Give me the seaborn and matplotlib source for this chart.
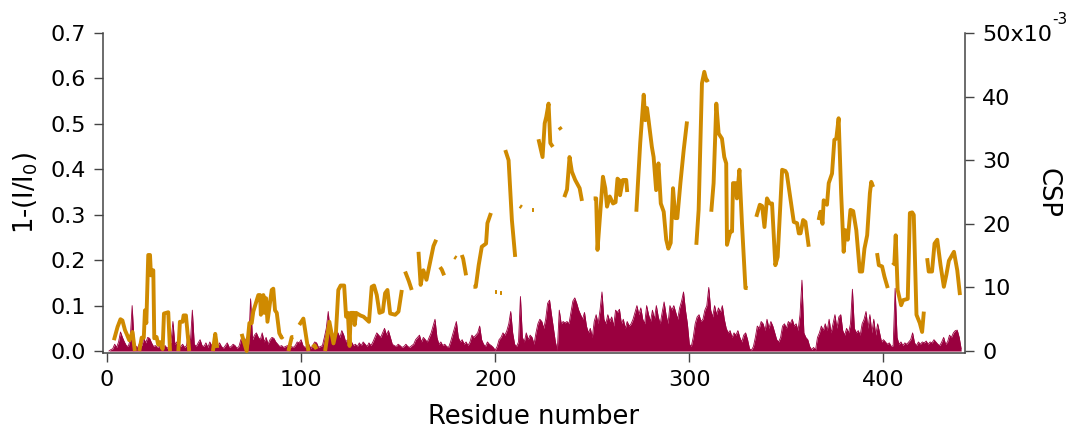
import numpy as np
import pandas as pd
import seaborn as sns
from matplotlib import pyplot as plt

# 1-(I/I0) per residue, residues 1..440
intensity = [
    0.000, 0.003, 0.005, 0.015, 0.008, 0.020, 0.042, 0.030, 0.020, 0.012,
    0.010, 0.025, 0.100, 0.020, 0.010, 0.008, 0.020, 0.012, 0.028, 0.018,
    0.030, 0.028, 0.018, 0.010, 0.012, 0.008, 0.010, 0.015, 0.008, 0.012,
    0.006, 0.010, 0.020, 0.065, 0.015, 0.020, 0.012, 0.010, 0.015, 0.008,
    0.012, 0.038, 0.020, 0.090, 0.015, 0.010, 0.018, 0.025, 0.012, 0.010,
    0.018, 0.008, 0.020, 0.012, 0.010, 0.015, 0.008, 0.018, 0.010, 0.006,
    0.012, 0.018, 0.008, 0.010, 0.015, 0.012, 0.006, 0.010, 0.025, 0.035,
    0.020, 0.030, 0.015, 0.115, 0.025, 0.035, 0.040, 0.030, 0.025, 0.040,
    0.020, 0.030, 0.015, 0.025, 0.030, 0.028, 0.020, 0.015, 0.010, 0.012,
    0.008, 0.010, 0.012, 0.006, 0.010, 0.008, 0.012, 0.020, 0.018, 0.025,
    0.012, 0.008, 0.010, 0.015, 0.006, 0.012, 0.020, 0.018, 0.008, 0.010,
    0.012, 0.030, 0.050, 0.087, 0.040, 0.025, 0.035, 0.045, 0.040, 0.030,
    0.045, 0.035, 0.020, 0.025, 0.015, 0.020, 0.012, 0.015, 0.010, 0.018,
    0.012, 0.020, 0.015, 0.010, 0.018, 0.012, 0.020, 0.030, 0.040, 0.035,
    0.030, 0.040, 0.050, 0.035, 0.045, 0.030, 0.015, 0.012, 0.010, 0.015,
    0.012, 0.008, 0.010, 0.015, 0.010, 0.008, 0.012, 0.015, 0.025, 0.030,
    0.035, 0.020, 0.030, 0.025, 0.020, 0.030, 0.040, 0.055, 0.070, 0.030,
    0.015, 0.020, 0.012, 0.015, 0.010, 0.008, 0.020, 0.035, 0.050, 0.065,
    0.030, 0.020, 0.025, 0.015, 0.020, 0.012, 0.020, 0.035, 0.030, 0.035,
    0.040, 0.055, 0.025, 0.015, 0.010, 0.020, 0.015, 0.012, 0.008, 0.002,
    0.010, 0.025, 0.030, 0.040, 0.035, 0.045, 0.060, 0.087, 0.040, 0.015,
    0.010, 0.020, 0.120, 0.030, 0.020, 0.040, 0.025, 0.035, 0.030, 0.015,
    0.040, 0.060, 0.070, 0.065, 0.050, 0.070, 0.105, 0.112, 0.080, 0.050,
    0.020, 0.002, 0.090, 0.060, 0.065, 0.062, 0.065, 0.060, 0.085, 0.110,
    0.117, 0.105, 0.090, 0.080, 0.070, 0.085, 0.055, 0.040, 0.050, 0.030,
    0.065, 0.080, 0.060, 0.090, 0.130, 0.070, 0.060, 0.080, 0.065, 0.075,
    0.055, 0.090, 0.085, 0.092, 0.060, 0.070, 0.050, 0.065, 0.055, 0.060,
    0.070, 0.085, 0.100, 0.080, 0.095, 0.070, 0.060, 0.100, 0.080, 0.065,
    0.090, 0.070, 0.100, 0.075, 0.060, 0.085, 0.108, 0.080, 0.060, 0.100,
    0.090, 0.100, 0.085, 0.070, 0.095, 0.110, 0.130, 0.090, 0.060, 0.015,
    0.010, 0.030, 0.060, 0.075, 0.080, 0.065, 0.070, 0.090, 0.100, 0.140,
    0.090, 0.075, 0.100, 0.080, 0.095, 0.085, 0.100, 0.070, 0.050, 0.040,
    0.045, 0.030, 0.040, 0.035, 0.045, 0.030, 0.020, 0.035, 0.040, 0.025,
    0.005, 0.002, 0.010, 0.030, 0.055, 0.050, 0.065, 0.060, 0.045, 0.070,
    0.050, 0.065, 0.055, 0.040, 0.025, 0.020, 0.030, 0.055, 0.060, 0.050,
    0.065, 0.060, 0.070, 0.055, 0.060, 0.045, 0.080, 0.156, 0.040, 0.030,
    0.025, 0.010, 0.003, 0.008, 0.002, 0.030, 0.040, 0.055, 0.045, 0.060,
    0.045, 0.070, 0.040, 0.060, 0.080, 0.050, 0.075, 0.080, 0.045, 0.035,
    0.050, 0.040, 0.060, 0.136, 0.050, 0.040, 0.045, 0.035, 0.060, 0.070,
    0.087, 0.050, 0.080, 0.040, 0.070, 0.035, 0.060, 0.040, 0.020, 0.025,
    0.020, 0.015, 0.018, 0.010, 0.012, 0.138, 0.030, 0.015, 0.020, 0.012,
    0.018, 0.015, 0.020, 0.025, 0.040, 0.018, 0.012, 0.020, 0.015, 0.020,
    0.018, 0.022, 0.015, 0.020, 0.018, 0.025, 0.020, 0.015, 0.012, 0.020,
    0.030, 0.015, 0.020, 0.035, 0.030, 0.040, 0.045, 0.046, 0.030, 0.005,
]
first_residue = 1

# CSP (x1e-3), None marks a gap in the trace
csp_res = [
    3.6, 5.5, 7.0, 8.0, 9.3, 10.3, 11.5, 13.2, 14.4, None,
    16.7, 17.9, 19.0, 19.6, 20.3, 21.3, 22.2, 22.7, 23.9, 24.4, 25.6, 26.4, 27.5, 28.7, 29.4, 31.6, 32.5, None,
    36.8, 37.6, 39.0, 39.5, 40.7, 42.4, None,
    54.6, 55.8, 56.8, None,
    69.4, 72.0, 73.4, 74.6, 75.4, 78.0, 78.9, 79.3, 80.6, 81.0, 82.0, 82.7, 84.9, 85.7, 86.6, 87.5, 88.8, 90.0, 90.7, None,
    93.5, 95.2, 96.0, None,
    99.1, 101.2, 102.9, 103.8, None,
    106.0, 107.0, 108.0, None,
    112.4, 114.6, 116.7, 118.0, 119.2, 120.4, 122.2, 123.2, 124.1, 125.0, 125.6, 127.1, 127.6, 128.4, 130.5,
    132.2, 133.6, 135.0, 136.4, 137.6, 139.0, 140.4, 142.1, 143.3, 144.5, 145.9, 148.5, 150.2, 151.9, None,
    153.6, 155.5, 157.0, None,
    160.5, 161.6, 163.0, 164.6, 166.5, 168.2, 169.6, None,
    171.6, 172.5, 173.7, None,
    179.0, 180.0, None,
    182.8, 183.5, 185.0, None,
    188.8, 190.0, 191.5, 193.1, 195.3, 196.0, 197.8, None,
    200.0, 201.0, None,
    202.5, 203.5, None,
    205.2, 206.9, 208.6, 210.3, None,
    212.7, 213.7, None,
    219.2, 220.2, None,
    222.3, 224.4, 225.5, 226.3, 227.5, 228.4, 229.7, None,
    233.0, 234.0, None,
    235.6, 237.0, 238.3, 239.5, 241.2, 243.5, 244.7, None,
    250.7, 252.0, 252.7, 254.1, 255.5, 256.7, 257.6, 259.0, 260.7, 262.0, 263.0, 264.0, 264.3, 265.8, 267.5, 268.0, None,
    272.7, 274.7, 276.5, 277.3, 278.2, 279.0, 280.7, 281.6, 282.9, 284.1, 285.3, 286.8, 288.1, 289.2, 290.4,
    291.6, 292.8, 293.8, 295.4, 297.1, 298.8, None,
    303.6, 304.8, 306.5, 307.7, 308.8, 310.0, None,
    311.3, 312.5, 313.9, 315.1, 316.8, 318.0, 319.0, 319.4, 321.1, 322.0, 322.5, 323.7, 324.5, 325.8, 327.1, 328.9, 330.0, None,
    334.5, 336.3, 337.5, 338.7, 340.0, 341.4, 342.6, 344.3, 345.5, 347.8, 349.5, 350.2, 353.8, 355.5, 356.4, 357.3,
    358.6, 359.8, 361.5, None,
    366.6, 367.5, 368.6, 369.2, 370.9, 371.8, 373.5, 374.7, 375.7, 376.9, 378.2, 379.5, 380.4, 381.6, 383.0, 384.4,
    386.0, 387.8, 389.0, 390.2, 391.6, 393.0, 393.7, 394.7, None,
    396.7, 397.6, 399.3, 400.5, 402.2, None,
    404.8, 405.6, 406.3, 407.3, 409.1, 410.1, 412.5, 413.6, 414.8, 415.6, 417.0, 418.7, 419.9, 420.8, None,
    422.5, 423.3, 425.0, 426.3, 427.7, 429.4, 431.1, 432.4, 433.7, 436.3, 438.0, 439.4,
]
csp_val = [
    1.7, 3.8, 5.0, 4.8, 3.3, 2.6, 1.7, 3.0, 0.0, None,
    0.0, 2.1, 2.1, 6.4, 4.4, 15.1, 15.1, 11.9, 12.7, 2.0, 2.2, 1.0, 1.4, 0.3, 5.9, 6.1, 0.0, None,
    0.0, 4.6, 4.6, 5.6, 5.6, 0.0, None,
    0.0, 2.7, 0.5, None,
    2.7, 0.0, 4.4, 4.4, 6.2, 8.8, 8.8, 5.7, 8.8, 6.0, 8.3, 4.6, 9.6, 9.8, 6.4, 6.0, 2.8, 2.1, 2.3, None,
    0.0, 2.2, 2.2, None,
    4.1, 5.1, 1.7, 0.0, None,
    0.6, 0.9, 0.3, None,
    0.0, 4.6, 1.2, 3.0, 9.6, 10.3, 10.3, 5.4, 6.0, 0.8, 6.0, 6.0, 4.1, 6.0, 5.6,
    5.4, 5.0, 4.6, 10.1, 10.3, 8.8, 6.0, 6.2, 9.1, 9.6, 5.9, 5.7, 6.2, 9.6, None,
    12.5, 11.0, 9.6, None,
    15.6, 10.4, 12.7, 11.2, 14.0, 16.5, 17.5, None,
    13.2, 12.8, 11.9, None,
    14.8, 14.6, None,
    15.1, 14.5, 11.9, None,
    10.1, 10.1, 13.5, 16.4, 16.9, 20.1, 21.7, None,
    9.3, 9.3, None,
    9.1, 9.1, None,
    31.6, 30.0, 20.6, 14.8, None,
    22.8, 22.6, None,
    22.2, 22.2, None,
    33.3, 30.5, 35.8, 36.8, 38.9, 32.7, 32.1, None,
    35.2, 34.8, None,
    24.2, 25.4, 30.5, 28.2, 26.9, 25.6, 23.6, None,
    24.0, 24.0, 15.9, 21.7, 27.4, 25.6, 22.7, 24.3, 23.2, 23.4, 27.1, 26.8, 24.5, 26.9, 26.9, 25.0, None,
    21.9, 32.7, 40.3, 36.3, 38.2, 36.3, 32.1, 30.5, 25.3, 29.5, 23.2, 21.9, 17.5, 16.1, 17.0,
    25.6, 20.9, 20.9, 26.4, 31.6, 36.1, None,
    16.7, 22.2, 42.1, 43.9, 42.5, 42.7, None,
    21.9, 26.4, 38.9, 34.2, 33.4, 30.5, 29.5, 16.7, 18.8, 18.8, 26.4, 26.4, 24.0, 28.5, 20.1, 9.9, 9.9, None,
    21.1, 23.0, 22.8, 19.5, 24.0, 23.2, 23.2, 13.5, 14.8, 28.5, 28.3, 27.9, 20.3, 20.1, 18.5, 18.5,
    20.6, 20.3, 16.4, None,
    20.6, 21.9, 20.0, 23.7, 23.0, 26.4, 27.9, 33.2, 33.4, 36.6, 24.8, 15.6, 19.0, 17.5, 22.2, 22.0,
    19.0, 12.5, 12.5, 16.1, 18.2, 24.8, 26.6, 25.8, None,
    15.4, 13.5, 13.3, 11.7, 9.9, None,
    13.5, 13.8, 18.2, 9.6, 7.2, 8.0, 8.2, 21.7, 21.8, 21.4, 5.7, 4.4, 3.0, 6.2, None,
    14.6, 12.5, 12.5, 16.9, 17.5, 13.5, 10.1, 12.0, 14.2, 15.6, 12.7, 8.8,
]

x_ticks = [0, 100, 200, 300, 400]
left_ticks = [0.0, 0.1, 0.2, 0.3, 0.4, 0.5, 0.6, 0.7]
right_ticks = [0, 10, 20, 30, 40, 50]
right_labels = ["0", "10", "20", "30", "40", "50x10"]

maroon = "#9A003F"
orange = "#CF8A00"
spine_col = "#444444"

sns.set_theme(style="ticks")
plt.rcParams["font.family"] = ["DejaVu Sans"]
plt.rcParams["text.color"] = "black"
plt.rcParams["axes.labelcolor"] = "black"

pre = pd.DataFrame({"res": np.arange(first_residue, first_residue + len(intensity)),
                    "val": intensity})

csp = pd.DataFrame({"res": csp_res, "csp": csp_val}).astype(float)
csp["seg"] = csp["csp"].isna().cumsum()
csp = csp.dropna()

fig = plt.figure(figsize=(10.72, 4.3), dpi=100)
ax = fig.add_axes([0.0961, 0.179, 0.8041, 0.7442])
ax2 = ax.twinx()

ax.fill_between(pre["res"], 0, pre["val"], color=maroon, lw=0)
sns.lineplot(data=pre, x="res", y="val", color=maroon, lw=0.6, ax=ax)

sns.lineplot(data=csp, x="res", y="csp", units="seg", estimator=None,
             color=orange, lw=2.8, ax=ax2, legend=False,
             solid_capstyle="butt")

ax.set_xlim(-2, 442)
ax.set_ylim(-0.0044, 0.7)
ax2.set_ylim(-0.314, 50)

ax.set_xticks(x_ticks)
ax.set_yticks(left_ticks)
ax.set_yticklabels([f"{t:.1f}" for t in left_ticks])
ax2.set_yticks(right_ticks)
ax2.set_yticklabels(right_labels)

# exponent on the top right tick label
ax2.annotate("-3", xy=(1, 50), xycoords=("axes fraction", "data"),
             xytext=(87, 6), textcoords="offset pixels",
             fontsize=11, ha="left", va="bottom")

ax.set_xlabel("Residue number", fontsize=18.5)
ax.set_ylabel(r"1-(I/I$_0$)", fontsize=18.5)
ax2.set_ylabel("CSP", fontsize=18.5, rotation=270)
ax.xaxis.set_label_coords(0.5, -0.2)
ax.xaxis.label.set_va("center")
ax.yaxis.set_label_coords(-0.09, 0.5)
ax.yaxis.label.set_va("center")
ax2.yaxis.set_label_coords(1.096, 0.5)
ax2.yaxis.label.set_va("center")
ax2.yaxis.label.set_ha("center")

for a in (ax, ax2):
    a.tick_params(labelsize=16, length=6.5, width=1.0, color=spine_col,
                  labelcolor="black", pad=6)
    for s in a.spines.values():
        s.set_color(spine_col)
        s.set_linewidth(1.1)
    a.spines["top"].set_visible(False)
ax.spines["right"].set_visible(False)
ax2.spines["left"].set_visible(False)
ax2.spines["bottom"].set_visible(False)

fig.savefig("out.png", dpi=100)
